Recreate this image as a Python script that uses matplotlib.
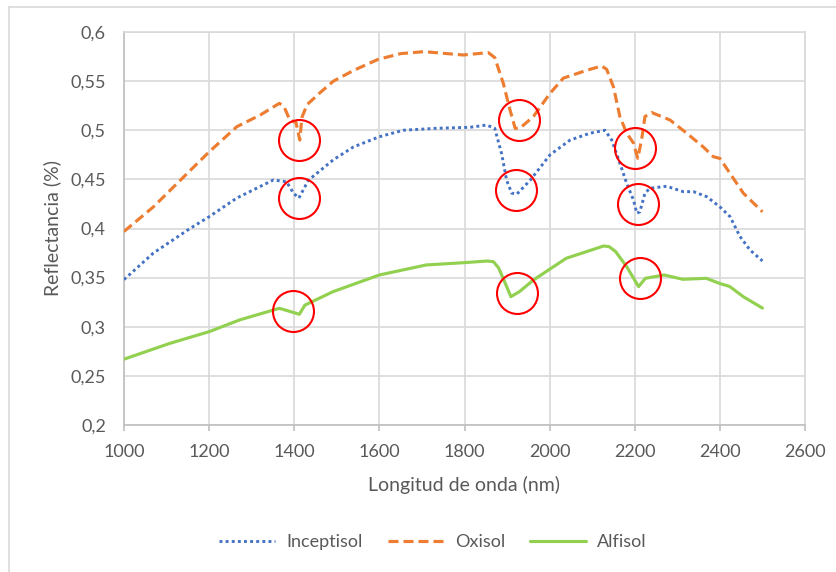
import matplotlib
matplotlib.use('Agg')
import matplotlib.pyplot as plt
from matplotlib.lines import Line2D
from matplotlib.ticker import FuncFormatter, MultipleLocator

# ---------------- data ----------------
incep_x = [1000, 1069, 1155, 1200, 1265, 1351, 1382, 1398, 1411, 1433, 1492, 1539,
           1600, 1656, 1735, 1813, 1852, 1871, 1887, 1899, 1911, 1923, 1954, 2001,
           2048, 2095, 2130, 2146, 2165, 2181, 2197, 2205, 2212, 2224, 2236, 2275,
           2314, 2338, 2369, 2400, 2424, 2447, 2471, 2500]
incep_y = [0.348, 0.375, 0.400, 0.412, 0.431, 0.4494, 0.4476, 0.436, 0.431, 0.449, 0.470, 0.483,
           0.4934, 0.500, 0.502, 0.503, 0.5053, 0.502, 0.4765, 0.449, 0.436, 0.435, 0.449, 0.475,
           0.490, 0.497, 0.500, 0.490, 0.4664, 0.446, 0.429, 0.4155, 0.417, 0.436, 0.441, 0.443,
           0.4375, 0.4375, 0.4324, 0.422, 0.412, 0.392, 0.378, 0.367]

oxi_x = [1000, 1069, 1132, 1200, 1265, 1320, 1365, 1376, 1390, 1404, 1413, 1418, 1430,
         1460, 1492, 1540, 1596, 1650, 1705, 1797, 1856, 1871, 1891, 1907, 1919, 1930,
         1962, 2001, 2032, 2087, 2122, 2134, 2150, 2165, 2181, 2197, 2207, 2216, 2224,
         2240, 2283, 2322, 2361, 2385, 2400, 2424, 2455, 2500]
oxi_y = [0.397, 0.422, 0.449, 0.478, 0.5036, 0.5155, 0.5274, 0.524, 0.510, 0.508, 0.490, 0.513, 0.526,
         0.538, 0.550, 0.561, 0.572, 0.578, 0.580, 0.5766, 0.579, 0.574, 0.548, 0.5206, 0.502, 0.502,
         0.514, 0.5376, 0.553, 0.561, 0.5654, 0.562, 0.544, 0.514, 0.497, 0.487, 0.4714, 0.490, 0.514,
         0.518, 0.5104, 0.497, 0.483, 0.473, 0.4714, 0.456, 0.436, 0.417]

alfi_x = [1000, 1107, 1200, 1272, 1365, 1392, 1412, 1425, 1491, 1600, 1710, 1798, 1853,
          1868, 1880, 1896, 1909, 1929, 1962, 2039, 2127, 2140, 2155, 2181, 2209, 2225,
          2269, 2313, 2368, 2400, 2423, 2455, 2500]
alfi_y = [0.267, 0.283, 0.295, 0.307, 0.3188, 0.3153, 0.3127, 0.322, 0.3357, 0.3527, 0.3629, 0.3652, 0.3669,
          0.3662, 0.360, 0.344, 0.3306, 0.3357, 0.3476, 0.3697, 0.3822, 0.3815, 0.3765, 0.3612, 0.3408, 0.3493,
          0.3527, 0.3483, 0.3493, 0.344, 0.341, 0.3306, 0.319]

# red circles marking absorption features
circle_x = [1412, 1412, 1396, 1929, 1920, 1923, 2201, 2207, 2212]
circle_y = [0.490, 0.431, 0.3163, 0.5104, 0.4392, 0.334, 0.4816, 0.4246, 0.3493]

series_names = ['Inceptisol', 'Oxisol', 'Alfisol']
x_ticks = [1000, 1200, 1400, 1600, 1800, 2000, 2200, 2400, 2600]

# ---------------- style ----------------
FONT = ['Lato', 'DejaVu Sans']
plt.rcParams['font.family'] = FONT
TXT = '#595959'
GRID = '#d9d9d9'
AXC = '#bfbfbf'
BLUE = '#4472C4'
ORANGE = '#ED7D31'
GREEN = '#92D050'

fig = plt.figure(figsize=(8.36, 5.72), dpi=100)
W, H = 836, 572
ax = fig.add_axes([124 / W, 1 - 425 / H, (805 - 124) / W, (425 - 32) / H])

# figure frame (left and top edges visible)
fig.add_artist(Line2D([9 / W, 9 / W], [-0.01, 1 - 7 / H], color=GRID, lw=1.2,
                      transform=fig.transFigure))
fig.add_artist(Line2D([9 / W, 1.01], [1 - 7 / H, 1 - 7 / H], color=GRID, lw=1.2,
                      transform=fig.transFigure))

l1, = ax.plot(incep_x, incep_y, color=BLUE, lw=2.1, linestyle=(0, (1, 1.1)),
              dash_capstyle='butt', label=series_names[0], zorder=3)
l2, = ax.plot(oxi_x, oxi_y, color=ORANGE, lw=2.25, linestyle=(0, (3.2, 1.6)),
              dash_capstyle='butt', solid_joinstyle='round', label=series_names[1], zorder=3)
l3, = ax.plot(alfi_x, alfi_y, color=GREEN, lw=2.25, solid_joinstyle='round',
              solid_capstyle='round', label=series_names[2], zorder=3)

ax.plot(circle_x, circle_y, linestyle='none', marker='o', ms=29.5, mfc='none',
        mec='#FF0000', mew=1.5, zorder=4)

ax.set_xlim(1000, 2600)
ax.set_ylim(0.2, 0.6)
ax.set_xticks(x_ticks)
ax.yaxis.set_major_locator(MultipleLocator(0.05))
ax.yaxis.set_major_formatter(FuncFormatter(lambda v, p: f"{round(v, 2):g}".replace('.', ',')))

ax.grid(True, color=GRID, lw=1.2, zorder=0)
ax.set_axisbelow(True)
for s in ['top', 'right']:
    ax.spines[s].set_color(GRID)
    ax.spines[s].set_linewidth(1.2)
for s in ['left', 'bottom']:
    ax.spines[s].set_color(AXC)
    ax.spines[s].set_linewidth(1.2)

ax.tick_params(axis='x', direction='out', length=4.5, width=1.2, color=AXC,
               labelsize=13, labelcolor=TXT, pad=9.5)
ax.tick_params(axis='y', length=0, labelsize=13, labelcolor=TXT, pad=13)

ax.set_xlabel('Longitud de onda (nm)', fontsize=14, color=TXT, labelpad=11)
ax.set_ylabel('Reflectancia (%)', fontsize=14, color=TXT, labelpad=7)

fig.legend(handles=[l1, l2, l3], loc='center', bbox_to_anchor=(433 / W, 1 - 542 / H),
           ncol=3, frameon=False, fontsize=13, labelcolor=TXT, handlelength=3.1,
           handletextpad=0.6, columnspacing=1.4)

fig.savefig('out.png', dpi=100)
